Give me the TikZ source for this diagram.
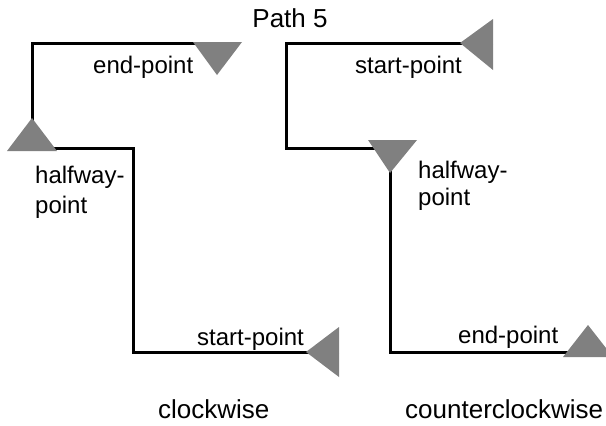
\documentclass[tikz,border=0pt]{standalone}
\usepackage{fontspec}
\setmainfont{Liberation Sans}
\begin{document}
\begin{tikzpicture}[x=1pt,y=-1pt,
  pathline/.style={line width=3pt,line join=miter},
  marker/.style={fill=black!50,draw=none},
  lbl/.style={anchor=base west,inner sep=0pt,font=\fontsize{24}{29}\selectfont},
  ttl/.style={anchor=base west,inner sep=0pt,font=\fontsize{26}{31}\selectfont}]
\useasboundingbox (0,0) rectangle (606,426);
% left path (clockwise)
\coordinate (ls) at (339,352);
\coordinate (la) at (133,352);
\coordinate (lb) at (133,148);
\coordinate (lc) at (32,148);
\coordinate (ld) at (32,43);
\coordinate (le) at (217,43);
\draw[pathline] (ls) -- (la) -- (lb) -- (lc) -- (ld) -- (le);
% right path (counterclockwise)
\coordinate (rs) at (493,43);
\coordinate (ra) at (286,43);
\coordinate (rb) at (286,148);
\coordinate (rc) at (390,148);
\coordinate (rd) at (390,352);
\coordinate (re) at (588,352);
\draw[pathline] (rs) -- (ra) -- (rb) -- (rc) -- (rd) -- (re);
% markers
\fill[marker] (193,42) -- (242,42) -- (217,75) -- cycle;
\fill[marker] (7,151) -- (57,151) -- (32,118) -- cycle;
\fill[marker] (306,352) -- (339,327) -- (339,377) -- cycle;
\fill[marker] (460,43) -- (493,19) -- (493,70) -- cycle;
\fill[marker] (368,140) -- (417,140) -- (390,173) -- cycle;
\fill[marker] (563,357) -- (613,357) -- (588,325) -- cycle;
% labels
\node[ttl,anchor=base] (title) at (290,27) {Path 5};
\node[lbl] (lend) at (93,73) {end-point};
\node[lbl] (lhalf1) at (35,183) {halfway-};
\node[lbl] (lhalf2) at (35,213) {point};
\node[lbl] (lstart) at (197,345) {start-point};
\node[lbl] (rstart) at (355,73) {start-point};
\node[lbl] (rhalf1) at (418,178) {halfway-};
\node[lbl] (rhalf2) at (418,205) {point};
\node[lbl] (rend) at (458,343) {end-point};
\node[ttl] (cw) at (158,418) {clockwise};
\node[ttl] (ccw) at (405,418) {counterclockwise};
\end{tikzpicture}
\end{document}
